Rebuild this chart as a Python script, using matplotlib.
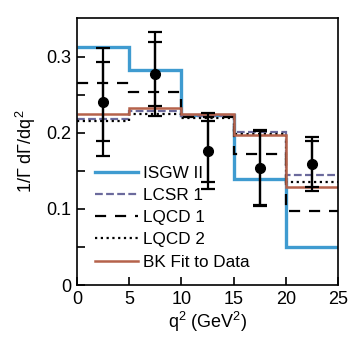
import matplotlib
matplotlib.use('Agg')
import matplotlib.pyplot as plt
import numpy as np

plt.rcParams['font.family'] = ['Liberation Sans', 'DejaVu Sans']
plt.rcParams['mathtext.fontset'] = 'custom'
plt.rcParams['mathtext.rm'] = 'Liberation Sans'

# q2 bins (GeV^2)
edges = [0, 5, 10, 15, 20, 25]

# model predictions per bin
isgw2 = [0.313, 0.282, 0.224, 0.139, 0.050]
lcsr1 = [0.218, 0.228, 0.222, 0.201, 0.145]
lqcd1 = [0.266, 0.253, 0.221, 0.172, 0.097]
lqcd2 = [0.215, 0.225, 0.220, 0.199, 0.136]
bkfit = [0.225, 0.232, 0.225, 0.197, 0.129]

# data points
q2_data = [2.5, 7.5, 12.5, 17.5, 22.5]
y_data = [0.241, 0.277, 0.176, 0.154, 0.159]
err_stat = [0.052, 0.042, 0.040, 0.049, 0.030]
err_tot = [0.071, 0.055, 0.050, 0.050, 0.035]

fig = plt.figure(figsize=(3.54, 3.44), dpi=100)
ax = fig.add_axes([0.2175, 0.1715, 0.7375, 0.7765])

ax.stairs(isgw2, edges, color='#3f9bd0', lw=2.4, label='ISGW II', baseline=None)
ax.stairs(lcsr1, edges, color='#6b6a9c', lw=1.6, ls=(0, (3.5, 1.5)), label='LCSR 1', baseline=None)
ax.stairs(lqcd1, edges, color='black', lw=1.6, ls=(0, (5, 4)), label='LQCD 1', baseline=None)
ax.stairs(lqcd2, edges, color='black', lw=1.6, ls=(0, (1, 1.6)), label='LQCD 2', baseline=None)
ax.stairs(bkfit, edges, color='#b5624b', lw=1.8, label='BK Fit to Data', baseline=None)

# total and stat error bars
ax.errorbar(q2_data, y_data, yerr=err_tot, fmt='none', ecolor='black',
            elinewidth=1.6, capsize=5, capthick=1.6)
ax.errorbar(q2_data, y_data, yerr=err_stat, fmt='o', color='black', ms=7,
            elinewidth=1.6, capsize=5, capthick=1.6)

ax.set_xlim(0, 25)
ax.set_ylim(0, 0.351)
ax.set_xticks([0, 5, 10, 15, 20, 25])
ax.set_yticks([0, 0.1, 0.2, 0.3])
ax.set_yticklabels(['0', '0.1', '0.2', '0.3'])
ax.set_yticks(np.arange(0.05, 0.35, 0.1), minor=True)
ax.tick_params(direction='in', length=6, width=1.2, labelsize=13, pad=4)
ax.tick_params(which='minor', direction='in', length=6, width=1.2)
for s in ax.spines.values():
    s.set_linewidth(1.2)

ax.set_xlabel('q$^2$ (GeV$^2$)', fontsize=13, labelpad=2)
ax.set_ylabel('1/Γ dΓ/dq$^2$', fontsize=13, labelpad=6)

ax.legend(loc='lower left', bbox_to_anchor=(0.01, 0.0), frameon=False, fontsize=12.3,
          handlelength=2.5, handletextpad=0.3, labelspacing=0.42, borderaxespad=0.5)

fig.savefig('out.png', dpi=100)
